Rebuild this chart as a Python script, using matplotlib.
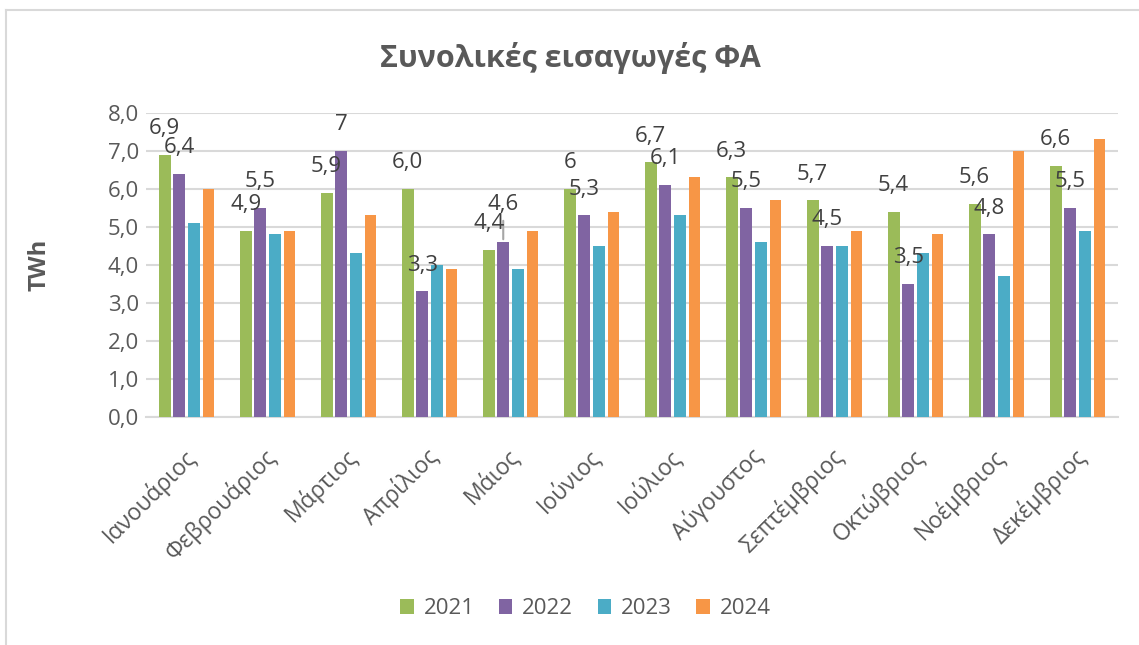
import numpy as np
import matplotlib.pyplot as plt
from matplotlib.lines import Line2D
from matplotlib.transforms import ScaledTranslation

plt.rcParams['font.family'] = ['Open Sans', 'DejaVu Sans']

# %% Data
months = ['Ιανουάριος', 'Φεβρουάριος', 'Μάρτιος', 'Απρίλιος', 'Μάιος', 'Ιούνιος',
          'Ιούλιος', 'Αύγουστος', 'Σεπτέμβριος', 'Οκτώβριος', 'Νοέμβριος', 'Δεκέμβριος']
years = ['2021', '2022', '2023', '2024']
v2021 = [6.9, 4.9, 5.9, 6.0, 4.4, 6.0, 6.7, 6.3, 5.7, 5.4, 5.6, 6.6]
v2022 = [6.4, 5.5, 7.0, 3.3, 4.6, 5.3, 6.1, 5.5, 4.5, 3.5, 4.8, 5.5]
v2023 = [5.1, 4.8, 4.3, 4.0, 3.9, 4.5, 5.3, 4.6, 4.5, 4.3, 3.7, 4.9]
v2024 = [6.0, 4.9, 5.3, 3.9, 4.9, 5.4, 6.3, 5.7, 4.9, 4.8, 7.0, 7.3]
# data labels as printed on the chart (only 2021 and 2022 have them)
lab2021 = ['6,9', '4,9', '5,9', '6,0', '4,4', '6', '6,7', '6,3', '5,7', '5,4', '5,6', '6,6']
lab2022 = ['6,4', '5,5', '7', '3,3', '4,6', '5,3', '6,1', '5,5', '4,5', '3,5', '4,8', '5,5']

colors = ['#9BBB59', '#8064A2', '#4BACC6', '#F79646']
txt = '#595959'
grid_c = '#D9D9D9'

# %% Plot
fig = plt.figure(figsize=(11.39, 6.45), dpi=100)
ax = fig.add_axes([0.1282, 0.3535, 0.8534, 0.4718])

x = np.arange(len(months))
step = 0.18
width = 0.145
series = [v2021, v2022, v2023, v2024]
bars = []
for i, vals in enumerate(series):
    b = ax.bar(x + (i - 1.5) * step, vals, width, color=colors[i], label=years[i], zorder=3)
    bars.append(b)

# data labels for 2021 and 2022
for i, (labels, b) in enumerate([(lab2021, bars[0]), (lab2022, bars[1])]):
    for j, (lab, rect) in enumerate(zip(labels, b)):
        cx = rect.get_x() + rect.get_width() / 2
        top = rect.get_height()
        off = 26
        if i == 1 and j == 4:
            off = 38
            ax.annotate('', xy=(cx, top), xytext=(0, 24), textcoords='offset pixels',
                        xycoords='data',
                        arrowprops=dict(arrowstyle='-', color='#A6A6A6', lw=1.5))
        ax.annotate(lab, xy=(cx, top), xytext=(0, off), textcoords='offset pixels',
                    ha='center', va='center', fontsize=16, color='#404040', zorder=5)

ax.set_xlim(-0.5, len(months) - 0.5)
ax.set_ylim(0, 8)
ax.set_yticks(np.arange(0, 9, 1))
ax.set_yticklabels([f'{v:.1f}'.replace('.', ',') for v in np.arange(0, 9, 1)])
ax.yaxis.grid(True, color=grid_c, lw=1.5, zorder=0)
ax.set_xticks(x)
ax.set_xticklabels(months, rotation=45, ha='right', va='center', rotation_mode='anchor')
ax.tick_params(axis='x', length=0, pad=26, labelsize=16.5, labelcolor=txt)
ax.tick_params(axis='y', length=0, pad=5, labelsize=16, labelcolor=txt)
shift = ScaledTranslation(5 / 100, 0, fig.dpi_scale_trans)
for lbl in ax.get_xticklabels():
    lbl.set_transform(lbl.get_transform() + shift)
for s in ['top', 'right', 'left']:
    ax.spines[s].set_visible(False)
ax.spines['bottom'].set_color(grid_c)
ax.spines['bottom'].set_linewidth(1.5)

ax.set_ylabel('TWh', fontsize=17, fontweight='bold', color=txt)
ax.yaxis.set_label_coords(-0.097, 0.5)

fig.text(0.5004, 0.91, 'Συνολικές εισαγωγές ΦΑ', ha='center', va='center',
         fontsize=22, fontweight='bold', color=txt)

fig.legend(loc='center', bbox_to_anchor=(0.514, 0.056), ncol=4, frameon=False,
           fontsize=16, labelcolor=txt, handlelength=0.6, handleheight=0.6,
           handletextpad=0.45, columnspacing=1.1)

# outer chart border (only top and left visible)
fig.add_artist(Line2D([6 / 1139, 1], [1 - 10 / 645, 1 - 10 / 645], color=grid_c, lw=1.5))
fig.add_artist(Line2D([6 / 1139, 6 / 1139], [0, 1 - 10 / 645], color=grid_c, lw=1.5))

fig.savefig('out.png', dpi=100)
